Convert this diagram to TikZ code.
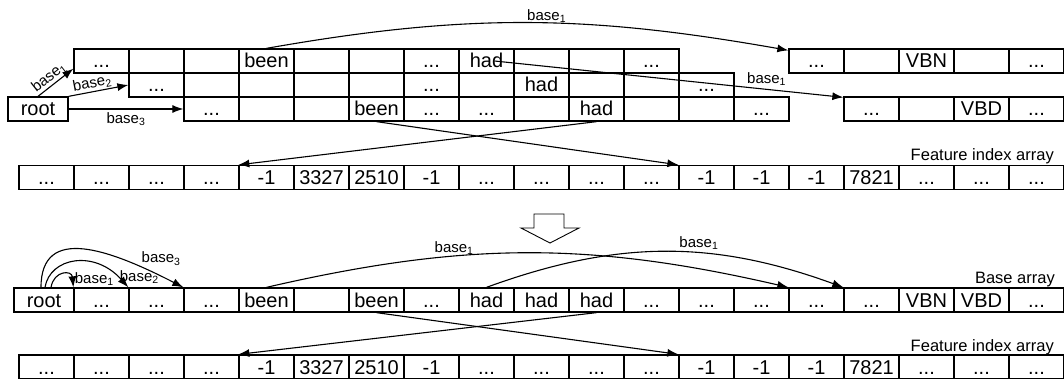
\documentclass[tikz,border=0pt]{standalone}
\usepackage{fontspec}
\setmainfont{Liberation Sans}
\usetikzlibrary{arrows.meta}

\newcommand{\dts}{...}
\newcommand{\cellfont}{\fontsize{20}{20}\selectfont}
\newcommand{\labfont}{\fontsize{15}{16}\selectfont}
\newcommand{\bs}[1]{base\textsubscript{#1}}

\begin{document}
\begin{tikzpicture}[x=1pt, y=1pt,
	cell/.style={draw, line width=1.3pt, minimum width=55pt, minimum height=24pt,
		inner sep=0pt, text height=16pt, text depth=2pt, font=\cellfont},
	link/.style={line width=1.1pt, -{Latex[length=11pt,width=8pt]}},
	lbl/.style={font=\labfont, inner sep=1pt},
	title/.style={font=\fontsize{16.5}{17}\selectfont, anchor=base east, inner sep=0pt}]
	\useasboundingbox (0,0) rectangle (1064,378);

	% rows before packing
	\node[cell, minimum width=60pt] (root1) at (38,269) {root};
	\foreach \t [count=\k from 1] in {\dts,{},{},been,{},{},\dts,had,{},{},\dts}
		\node[cell] (a\k) at (46.5+55*\k,317) {\t};
	\foreach \t [count=\k from 2] in {\dts,{},{},{},{},\dts,{},had,{},{},\dts}
		\node[cell] (b\k) at (46.5+55*\k,293) {\t};
	\foreach \t [count=\k from 3] in {\dts,{},{},been,\dts,\dts,{},had,{},{},\dts}
		\node[cell] (c\k) at (46.5+55*\k,269) {\t};
	\foreach \t [count=\k from 14] in {\dts,{},VBN,{},\dts}
		\node[cell] (v\k) at (46.5+55*\k,317) {\t};
	\foreach \t [count=\k from 15] in {\dts,{},VBD,\dts}
		\node[cell] (d\k) at (46.5+55*\k,269) {\t};

	\draw[link] (root1.north) -- node[lbl, sloped, above=0pt, pos=0.45] {\bs1} ([yshift=5pt]a1.south west);
	\draw[link] (root1.north east) -- node[lbl, sloped, above, pos=0.42] {\bs2} (b2.west);
	\draw[link] (root1.east) -- node[lbl, below=2pt] {\bs3} (c3.west);
	\draw[link] (a4.north) to[out=10,in=170] node[lbl, pos=0.54, above=-1pt] {\bs1} ([yshift=-2pt]v14.north west);
	\draw[link] ([xshift=8pt]a8.center) -- node[lbl, pos=0.78, above=2pt] {\bs1} ([yshift=-1pt]d15.north west);

	% feature index array (top)
	\node[title] (fia1) at (1054,218) {Feature index array};
	\foreach \t [count=\k from 0] in {\dts,\dts,\dts,\dts,-1,3327,2510,-1,\dts,\dts,\dts,\dts,-1,-1,-1,7821,\dts,\dts,\dts}
		\node[cell] (f\k) at (46.5+55*\k,200.5) {\t};
	\draw[link] (c6.south) -- (f12.north west);
	\draw[link] (c10.south) -- (f4.north west);

	% packing
	\draw[line width=0.9pt] (534,164) -- (564,164) -- (564,150) -- (579,150) -- (550,135) -- (521,150) -- (534,150) -- cycle;

	% base array
	\node[title] (ba) at (1055,95) {Base array};
	\node[cell, minimum width=60pt] (root2) at (44,78) {root};
	\foreach \t [count=\k from 1] in {\dts,\dts,\dts,been,{},been,\dts,had,had,had,\dts,\dts,\dts,\dts,\dts,VBN,VBD,\dts}
		\node[cell] (r\k) at (46.5+55*\k,78) {\t};

	\draw[link] ([xshift=7pt]root2.north) to[out=80,in=95,looseness=2] node[lbl, pos=1, anchor=south west] {\bs1} (r1.north west);
	\draw[link] ([xshift=1pt]root2.north) .. controls +(5,30) and +(-34,38) .. node[lbl, pos=1, anchor=south west, xshift=-10pt, yshift=2pt] {\bs2} (r2.north west);
	\draw[link] ([xshift=-3pt]root2.north) .. controls +(0,63) and +(-74,38) .. node[lbl, pos=0.8, above right] {\bs3} (r3.north west);
	\draw[link] (r4.north) to[out=13,in=167] node[lbl, pos=0.35, above=0pt] {\bs1} (r14.north west);
	\draw[link] (r8.north) to[out=20,in=160] node[lbl, pos=0.6, above=2pt] {\bs1} (r15.north west);

	% feature index array (bottom)
	\node[title] (fia2) at (1054,27) {Feature index array};
	\foreach \t [count=\k from 0] in {\dts,\dts,\dts,\dts,-1,3327,2510,-1,\dts,\dts,\dts,\dts,-1,-1,-1,7821,\dts,\dts,\dts}
		\node[cell] (g\k) at (46.5+55*\k,11) {\t};
	\draw[link] (r6.south) -- (g12.north west);
	\draw[link] (r10.south) -- (g4.north west);
\end{tikzpicture}
\end{document}
